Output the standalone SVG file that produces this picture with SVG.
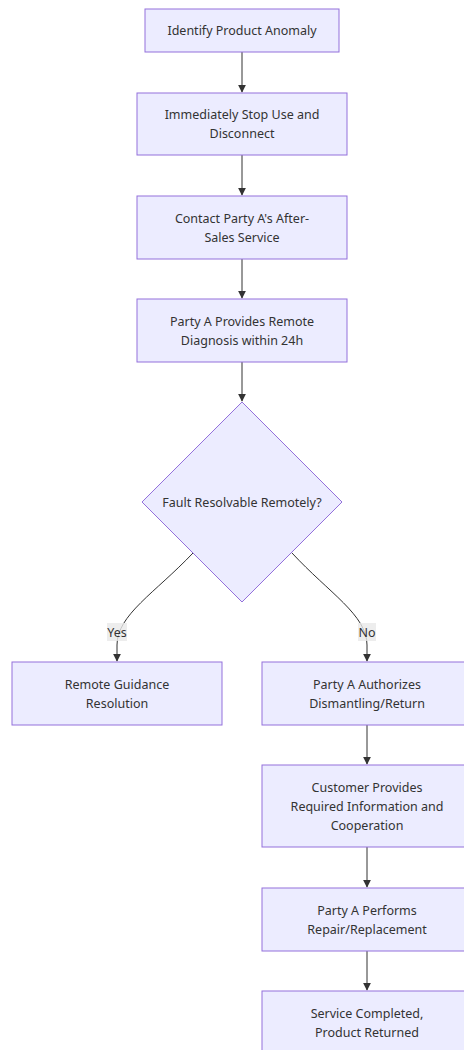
<svg xmlns="http://www.w3.org/2000/svg" width="464" height="1050" viewBox="0 0 464 1050">
<defs>
<style>
.node rect,.node polygon{fill:#ECECFF;stroke:#9370DB;stroke-width:1}
.node text{font-family:"Noto Sans","DejaVu Sans",sans-serif;font-size:12.5px;fill:#333;text-anchor:middle}
.edge{fill:none;stroke:#333;stroke-width:1}
.lbl rect{fill:#e8e8e8;opacity:0.8}
.lbl text{font-family:"Noto Sans","DejaVu Sans",sans-serif;font-size:12.5px;fill:#333;text-anchor:middle}
</style>
<marker id="arr" viewBox="0 0 10 10" refX="9" refY="5" markerWidth="8" markerHeight="8" markerUnits="userSpaceOnUse" orient="auto">
<path d="M0,0 L10,5 L0,10 z" fill="#333"/>
</marker>
</defs>
<rect width="464" height="1050" fill="#fff"/>
<g id="connectors">
<path class="edge" d="M242,52 L242,92" marker-end="url(#arr)"/>
<path class="edge" d="M242,155 L242,195" marker-end="url(#arr)"/>
<path class="edge" d="M242,259 L242,298" marker-end="url(#arr)"/>
<path class="edge" d="M242,362 L242,401" marker-end="url(#arr)"/>
<path class="edge" d="M193,553 C155,593 117,615 117,645 L117,661" marker-end="url(#arr)"/>
<path class="edge" d="M292,553 C329,593 367,615 367,645 L367,661" marker-end="url(#arr)"/>
<path class="edge" d="M367,725 L367,764" marker-end="url(#arr)"/>
<path class="edge" d="M367,847 L367,887" marker-end="url(#arr)"/>
<path class="edge" d="M367,951 L367,990" marker-end="url(#arr)"/>
<g class="lbl"><rect x="107" y="623" width="20" height="18"/><text x="117" y="637">Yes</text></g>
<g class="lbl"><rect x="358" y="623" width="18" height="18"/><text x="367" y="637">No</text></g>
</g>
<g id="n1" class="node"><rect x="145" y="9" width="194" height="43"/><text x="242" y="35">Identify Product Anomaly</text></g>
<g id="n2" class="node"><rect x="137" y="93" width="210" height="62"/><text x="242" y="119">Immediately Stop Use and</text><text x="242" y="138">Disconnect</text></g>
<g id="n3" class="node"><rect x="137" y="196" width="210" height="63"/><text x="242" y="223">Contact Party A's After-</text><text x="242" y="242">Sales Service</text></g>
<g id="n4" class="node"><rect x="137" y="299" width="210" height="63"/><text x="242" y="326">Party A Provides Remote</text><text x="242" y="345">Diagnosis within 24h</text></g>
<g id="n5" class="node"><polygon points="242,402 342,502 242,602 142,502"/><text x="242" y="507">Fault Resolvable Remotely?</text></g>
<g id="n6" class="node"><rect x="12" y="662" width="210" height="63"/><text x="117" y="689">Remote Guidance</text><text x="117" y="708">Resolution</text></g>
<g id="n7" class="node"><rect x="262" y="662" width="210" height="63"/><text x="367" y="689">Party A Authorizes</text><text x="367" y="708">Dismantling/Return</text></g>
<g id="n8" class="node"><rect x="262" y="765" width="210" height="82"/><text x="367" y="792">Customer Provides</text><text x="367" y="811">Required Information and</text><text x="367" y="830">Cooperation</text></g>
<g id="n9" class="node"><rect x="262" y="888" width="210" height="63"/><text x="367" y="915">Party A Performs</text><text x="367" y="934">Repair/Replacement</text></g>
<g id="n10" class="node"><rect x="262" y="991" width="210" height="63"/><text x="367" y="1018">Service Completed,</text><text x="367" y="1037">Product Returned</text></g>
</svg>
